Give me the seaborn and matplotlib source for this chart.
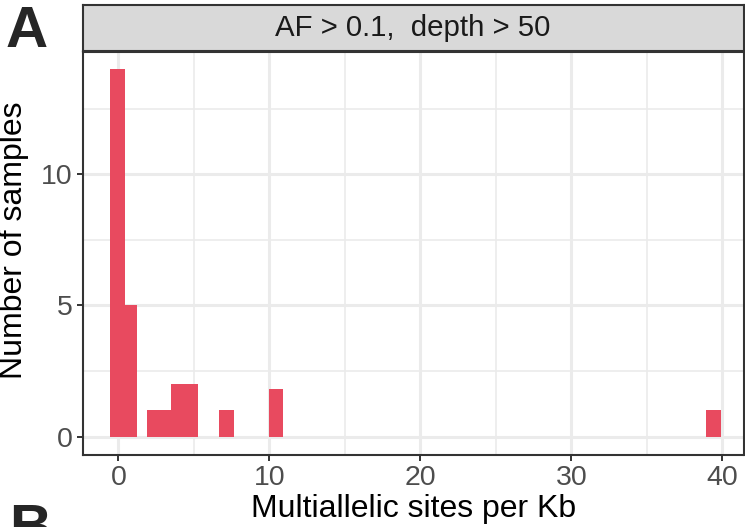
"""
直方图: 每个样本的多等位位点密度 (AF > 0.1, depth > 50)
"""
import matplotlib
matplotlib.use('Agg')
import matplotlib.pyplot as plt
import seaborn as sns

# ==================== 数据 ====================
# 每个柱子的左右边界 (Multiallelic sites per Kb) 和高度 (Number of samples)
bar_left = [-0.53, 0.29, 1.89, 3.47, 6.67, 9.96, 38.9]
bar_right = [0.45, 1.25, 3.47, 5.25, 7.65, 10.9, 39.9]
bar_count = [14, 5, 1, 2, 1, 1.8, 1]

x_ticks = [0, 10, 20, 30, 40]
y_ticks = [0, 5, 10]
strip_label = "AF > 0.1,  depth > 50"
x_label = "Multiallelic sites per Kb"
y_label = "Number of samples"

# ==================== 样式 ====================
BAR_COLOR = '#E84A5F'
GRID_COLOR = '#EBEBEB'
BORDER_COLOR = '#333333'
TICK_TEXT = '#4D4D4D'

sns.set_theme(style='white')
plt.rcParams['font.family'] = ['Liberation Sans', 'DejaVu Sans']

fig = plt.figure(figsize=(7.45, 5.27), dpi=100)
W, H = 745, 527

def px_box(x0, y0, x1, y1):
    # 像素坐标 -> figure 坐标
    return [x0 / W, 1 - y1 / H, (x1 - x0) / W, (y1 - y0) / H]

ax = fig.add_axes(px_box(82.7, 51.7, 743.5, 455))
strip = fig.add_axes(px_box(82.7, 5.3, 743.5, 51.0))

# 柱子
for left, right, count in zip(bar_left, bar_right, bar_count):
    sns.histplot(x=[(left + right) / 2], weights=[count], bins=[left, right],
                 color=BAR_COLOR, alpha=1, edgecolor='none', linewidth=0, ax=ax)

ax.set_xlim(-2.36, 41.4)
ax.set_ylim(-0.70, 14.67)
ax.set_xticks(x_ticks)
ax.set_yticks(y_ticks)
ax.set_xticks([5, 15, 25, 35], minor=True)
ax.set_yticks([2.5, 7.5, 12.5], minor=True)
ax.grid(True, which='major', color=GRID_COLOR, linewidth=2.2)
ax.grid(True, which='minor', color=GRID_COLOR, linewidth=1.2)
ax.set_axisbelow(True)
ax.tick_params(which='major', length=4, width=1.4, color=BORDER_COLOR,
               labelsize=20.5, labelcolor=TICK_TEXT, pad=3, bottom=True, left=True)
ax.tick_params(which='minor', length=0)
for sp in ax.spines.values():
    sp.set_color(BORDER_COLOR)
    sp.set_linewidth(1.5)
ax.set_xlabel(x_label, fontsize=23, color='black', labelpad=2)
ax.set_ylabel(y_label, fontsize=23, color='black')
ax.yaxis.set_label_coords((29 - 82.7) / 661, (455 - 240) / 403.3)

# 分面标题条
strip.set_facecolor('#D9D9D9')
strip.set_xticks([])
strip.set_yticks([])
for sp in strip.spines.values():
    sp.set_color(BORDER_COLOR)
    sp.set_linewidth(1.5)
strip.text(0.5, 0.5, strip_label, ha='center', va='center', fontsize=21.2,
           color='#1A1A1A', transform=strip.transAxes)

# 面板字母
fig.text(6 / W, 1 - 5 / H, 'A', ha='left', va='top', fontsize=42, fontweight='bold')
fig.text(9 / W, 1 - 503 / H, 'B', ha='left', va='top', fontsize=42, fontweight='bold')

fig.savefig('out.png', dpi=100)
plt.close('all')
